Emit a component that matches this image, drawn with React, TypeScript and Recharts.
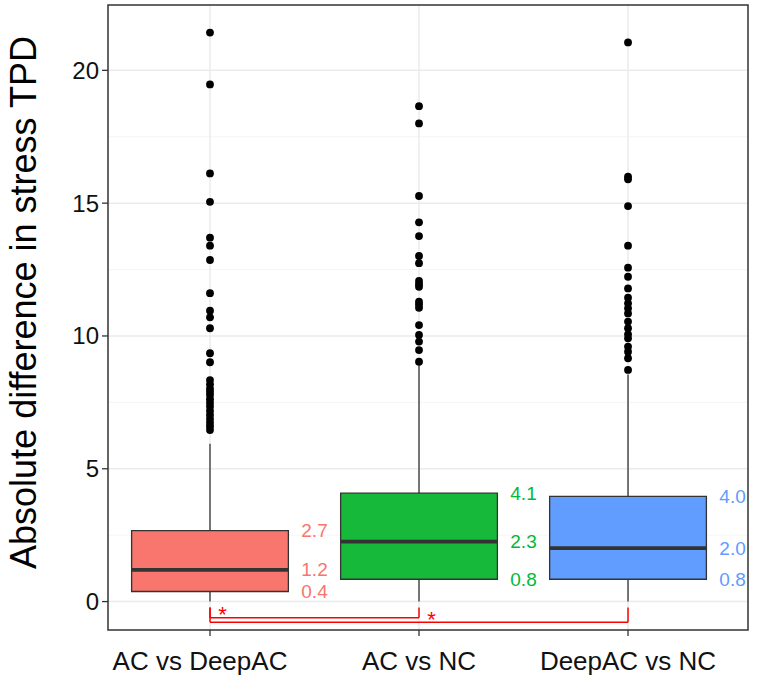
import React from "react";
import {
  ComposedChart,
  XAxis,
  YAxis,
  CartesianGrid,
  Scatter,
  ReferenceArea,
  ReferenceLine,
} from "recharts";

// comparisons on the x axis
const categories = ["AC vs DeepAC", "AC vs NC", "DeepAC vs NC"];

// box statistics, one entry per comparison
const whiskerLow = [0, 0, 0];
const q1 = [0.38, 0.84, 0.84];
const medians = [1.19, 2.26, 2.01];
const q3 = [2.67, 4.08, 3.96];
const whiskerHigh = [5.94, 8.9, 8.55];

// outliers
const outliersAcDeepAC = [
  21.42, 19.47, 16.12, 15.05, 13.7, 13.4, 12.86, 11.61, 10.95, 10.7, 10.29, 9.35, 9.01,
  8.34, 8.18, 8.02, 7.9, 7.78, 7.62, 7.48, 7.34, 7.18, 7.03, 6.88, 6.74, 6.6, 6.46,
];
const outliersAcNC = [
  18.65, 18.0, 15.27, 14.28, 13.76, 13.01, 12.74, 12.07, 11.95, 11.85, 11.29, 11.18,
  11.06, 10.41, 10.04, 9.79, 9.47, 9.03,
];
const outliersDeepAcNC = [
  21.05, 16.0, 15.9, 14.89, 13.4, 12.57, 12.23, 11.79, 11.44, 11.23, 11.04, 10.85,
  10.54, 10.29, 10.06, 9.91, 9.6, 9.41, 9.16, 8.72,
];
const outliers = [outliersAcDeepAC, outliersAcNC, outliersDeepAcNC];

// significance brackets (from, to, bracket level, star)
const bracketFrom = [1, 1];
const bracketTo = [2, 3];
const bracketLevel = [-0.61, -0.78];
const bracketTip = -0.22;
const bracketStars = ["*", "*"];
const starX = [1.06, 2.06];
const starY = [-0.31, -0.5];

const fills = ["#F8766D", "#17B93B", "#619CFF"];
const labelColors = ["#F8766D", "#00BA38", "#619CFF"];
const BOX_HALF = 0.375;
const X_DOMAIN: [number, number] = [0.512, 3.574];
const Y_DOMAIN: [number, number] = [-1.07, 22.46];
const FONT = '"Liberation Sans", Arial, Helvetica, sans-serif';

const outlierData = outliers.flatMap((vals, i) => vals.map((v) => ({ x: i + 1, y: v })));

const quartileLabels = categories.flatMap((_, i) =>
  [q1[i], medians[i], q3[i]].map((v) => ({
    x: i + 1.5,
    y: v,
    text: v.toFixed(1),
    color: labelColors[i],
  }))
);

const starData = bracketStars.map((s, i) => ({ x: starX[i], y: starY[i], text: s }));

const Dot = (props: any) => <circle cx={props.cx} cy={props.cy} r={3.9} fill="#000" />;

const QuartileText = (props: any) => (
  <text
    x={props.cx}
    y={props.cy}
    textAnchor="middle"
    dominantBaseline="central"
    fontSize={19}
    fontFamily={FONT}
    fill={props.payload.color}
  >
    {props.payload.text}
  </text>
);

const StarText = (props: any) => (
  <text
    x={props.cx}
    y={props.cy + 12}
    textAnchor="middle"
    fontSize={22}
    fontFamily={FONT}
    fill="#FF0000"
  >
    {props.payload.text}
  </text>
);

// the first label sits a little left of its tick in the original
const XTick = (props: any) => {
  const { x, y, payload, index } = props;
  const shift = index === 0 ? -10 : 0;
  return (
    <text
      x={x + shift}
      y={y}
      dy="0.71em"
      textAnchor="middle"
      fontSize={26}
      fontFamily={FONT}
      fill="#111"
    >
      {categories[payload.value - 1]}
    </text>
  );
};

const renderYTitle = (props: any) => {
  const vb = props.viewBox || { y: 5, height: 625 };
  const cx = 36;
  const cy = vb.y + vb.height / 2 - 15;
  return (
    <text
      x={cx}
      y={cy}
      transform={`rotate(-90 ${cx} ${cy})`}
      textAnchor="middle"
      fontSize={36}
      fontFamily={FONT}
      fill="#000"
    >
      Absolute difference in stress TPD
    </text>
  );
};

export default function App() {
  return (
    <div style={{ position: "absolute", left: 0, top: 0, width: 760, height: 680, background: "#fff" }}>
      <ComposedChart width={760} height={680} margin={{ top: 5, right: 12, bottom: 0, left: 0 }}>
        <CartesianGrid
          stroke="#F3F3F3"
          strokeWidth={0.8}
          vertical={false}
          horizontalValues={[2.5, 7.5, 12.5, 17.5]}
        />
        <CartesianGrid
          stroke="#EBEBEB"
          strokeWidth={1.5}
          horizontalValues={[0, 5, 10, 15, 20]}
          verticalValues={[1, 2, 3]}
        />
        <XAxis
          type="number"
          dataKey="x"
          domain={X_DOMAIN}
          ticks={[1, 2, 3]}
          allowDataOverflow
          height={50}
          axisLine={false}
          tickSize={6}
          tickMargin={16}
          tickLine={{ stroke: "#333", strokeWidth: 1.3 }}
          tick={<XTick />}
        />
        <YAxis
          type="number"
          dataKey="y"
          domain={Y_DOMAIN}
          ticks={[0, 5, 10, 15, 20]}
          allowDataOverflow
          width={108}
          axisLine={false}
          tickSize={6}
          tickMargin={3}
          tickLine={{ stroke: "#333", strokeWidth: 1.3 }}
          tick={{ fontSize: 24, fill: "#111", fontFamily: FONT }}
          label={renderYTitle}
        />

        {categories.map((_, i) => (
          <ReferenceLine
            key={`wh-${i}`}
            segment={[
              { x: i + 1, y: q3[i] },
              { x: i + 1, y: whiskerHigh[i] },
            ]}
            stroke="#333"
            strokeWidth={1.3}
          />
        ))}
        {categories.map((_, i) => (
          <ReferenceLine
            key={`wl-${i}`}
            segment={[
              { x: i + 1, y: whiskerLow[i] },
              { x: i + 1, y: q1[i] },
            ]}
            stroke="#333"
            strokeWidth={1.3}
          />
        ))}
        {categories.map((_, i) => (
          <ReferenceArea
            key={`box-${i}`}
            x1={i + 1 - BOX_HALF}
            x2={i + 1 + BOX_HALF}
            y1={q1[i]}
            y2={q3[i]}
            fill={fills[i]}
            fillOpacity={1}
            stroke="#333"
            strokeWidth={1.3}
          />
        ))}
        {categories.map((_, i) => (
          <ReferenceLine
            key={`med-${i}`}
            segment={[
              { x: i + 1 - BOX_HALF, y: medians[i] },
              { x: i + 1 + BOX_HALF, y: medians[i] },
            ]}
            stroke="#333"
            strokeWidth={3.8}
          />
        ))}

        {bracketFrom.map((from, i) => (
          <ReferenceLine
            key={`bl-${i}`}
            segment={[
              { x: from, y: bracketTip },
              { x: from, y: bracketLevel[i] },
            ]}
            stroke="#FF0000"
            strokeWidth={1.5}
          />
        ))}
        {bracketFrom.map((from, i) => (
          <ReferenceLine
            key={`bh-${i}`}
            segment={[
              { x: from, y: bracketLevel[i] },
              { x: bracketTo[i], y: bracketLevel[i] },
            ]}
            stroke="#FF0000"
            strokeWidth={1.5}
          />
        ))}
        {bracketTo.map((to, i) => (
          <ReferenceLine
            key={`br-${i}`}
            segment={[
              { x: to, y: bracketTip },
              { x: to, y: bracketLevel[i] },
            ]}
            stroke="#FF0000"
            strokeWidth={1.5}
          />
        ))}

        <Scatter data={outlierData} dataKey="y" shape={Dot} isAnimationActive={false} />
        <Scatter data={quartileLabels} dataKey="y" shape={QuartileText} isAnimationActive={false} />
        <Scatter data={starData} dataKey="y" shape={StarText} isAnimationActive={false} />

        <ReferenceArea
          x1={X_DOMAIN[0]}
          x2={X_DOMAIN[1]}
          y1={Y_DOMAIN[0]}
          y2={Y_DOMAIN[1]}
          fill="none"
          stroke="#333"
          strokeWidth={1.5}
          ifOverflow="visible"
        />
      </ComposedChart>
    </div>
  );
}
